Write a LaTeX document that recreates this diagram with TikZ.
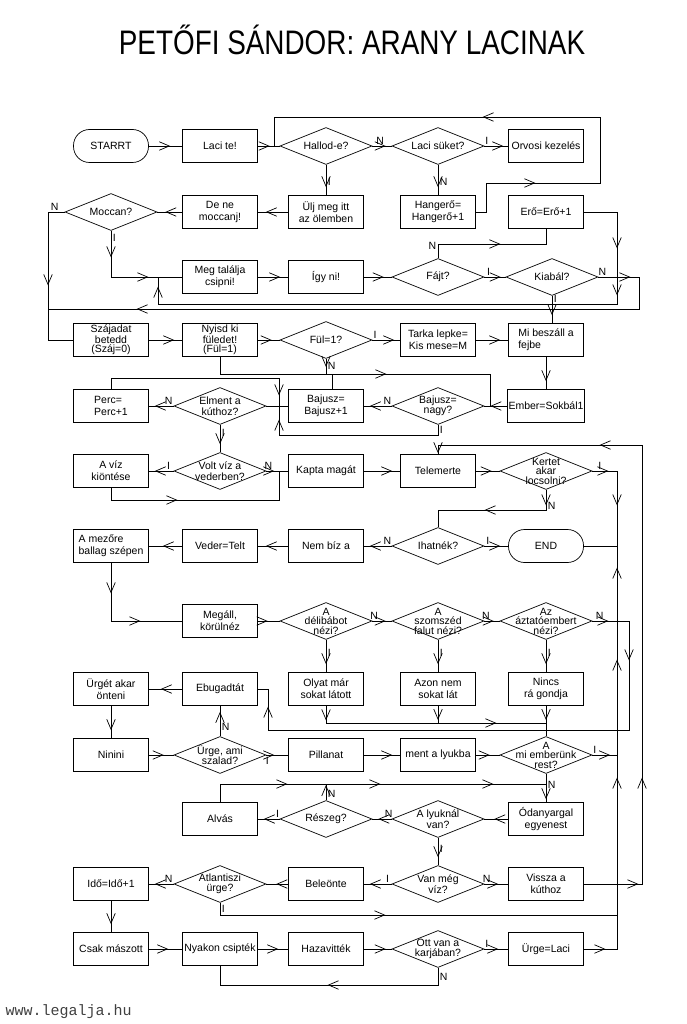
\documentclass[tikz,border=0pt]{standalone}
\usepackage{fontspec}
\setmainfont{Liberation Sans}
\newfontfamily\webfont{Liberation Mono}
\usepackage{graphicx}
\usetikzlibrary{positioning}
\usetikzlibrary{arrows.meta, shapes.geometric, decorations.markings}

\begin{document}
\begin{tikzpicture}[x=1pt, y=-1pt, line width=0.7pt]

 \tikzset{>={Straight Barb[length=10pt, width=8.5pt]},
 	box/.style={draw, minimum width=75pt, minimum height=33pt,
 		inner sep=1pt, align=center, font=\fontsize{10.5}{12}\selectfont},
 	term/.style={box, rounded corners=16pt},
 	dec/.style={draw, diamond, minimum width=92pt, minimum height=37pt, inner sep=0pt},
 	dtxt/.style={align=center, inner sep=0pt, font=\fontsize{10.5}{10.5}\selectfont},
 	tight/.style={font=\fontsize{10.5}{9.5}\selectfont},
 	lab/.style={inner sep=1.5pt, font=\fontsize{10.5}{12}\selectfont},
 	ar/.style={postaction={decorate, decoration={markings,
 				mark=at position #1 with {\arrow{>}}}}},
 	ar/.default=-8pt
 }
 \useasboundingbox (0,0) rectangle (686,1024);

 \node (title) at (352,40) {\scalebox{0.82}[1]{\fontsize{34}{34}\selectfont PETŐFI SÁNDOR: ARANY LACINAK}};
 \node[anchor=west, font=\webfont\fontsize{15}{15}\selectfont, text=black!75] (web) at (2,1012) {www.legalja.hu};

 % row 1
 \node[term] (starrt) at (111,146) {STARRT};
 \node[box] (lacite) at (220,146) {Laci te!};
 \node[dec, label={[dtxt]center:{Hallod-e?}}] (hallod) at (326,146) {};
 \node[dec, label={[dtxt]center:{Laci süket?}}] (suket) at (438,146) {};
 \node[box] (orvosi) at (546,146) {Orvosi kezelés};
 % row 2
 \node[dec, label={[dtxt]center:{Moccan?}}] (moccan) at (111,212) {};
 \node[box] (dene) at (220,212) {De ne\\moccanj!};
 \node[box] (ulj) at (326,212) {Ülj meg itt\\az ölemben};
 \node[box] (hanger) at (438,212) {Hangerő=\\Hangerő+1};
 \node[box] (ero) at (546,212) {Erő=Erő+1};
 % row 3
 \node[box] (megtalal) at (220,277) {Meg találja\\csipni!};
 \node[box] (igyni) at (326,277) {Így ni!};
 \node[dec, label={[dtxt]center:{Fájt?}}] (fajt) at (438,277) {};
 \node[dec, label={[dtxt]center:{Kiabál?}}] (kiabal) at (552,277) {};
 % row 4
 \node[box, tight] (szaj) at (111,340) {Szájadat\\betedd\\(Száj=0)};
 \node[box, tight] (nyisd) at (220,340) {Nyisd ki\\füledet!\\(Fül=1)};
 \node[dec, label={[dtxt]center:{Fül=1?}}] (ful) at (326,340) {};
 \node[box] (tarka) at (438,340) {Tarka lepke=\\Kis mese=M};
 \node[box, align=left] (mibesz) at (546,340) {Mi beszáll a\\fejbe};
 % row 5
 \node[box, align=left] (perc) at (111,406) {Perc=\\Perc+1};
 \node[dec, label={[dtxt]center:{Elment a\\kúthoz?}}] (elment) at (220,406) {};
 \node[box] (bajplus) at (326,406) {Bajusz=\\Bajusz+1};
 \node[dec, label={[dtxt]center:{Bajusz=\\nagy?}}] (bajnagy) at (438,406) {};
 \node[box] (ember) at (546,406) {Ember=Sokbál1};
 % row 6
 \node[box] (viz) at (111,471) {A víz\\kiöntése};
 \node[dec, label={[dtxt]center:{Volt víz a\\vederben?}}] (volt) at (220,471) {};
 \node[box] (kapta) at (326,471) {Kapta magát};
 \node[box] (telem) at (438,471) {Telemerte};
 \node[dec, label={[dtxt, tight]center:{Kertet\\akar\\locsolni?}}] (kertet) at (546,471) {};
 % row 7
 \node[box, align=left] (mezore) at (111,546) {A mezőre\\ballag szépen};
 \node[box] (veder) at (220,546) {Veder=Telt};
 \node[box] (nembiz) at (326,546) {Nem bíz a};
 \node[dec, label={[dtxt]center:{Ihatnék?}}] (ihat) at (438,546) {};
 \node[term] (endn) at (546,546) {END};
 % row 8
 \node[box] (megall) at (220,621) {Megáll,\\körülnéz};
 \node[dec, label={[dtxt, tight]center:{A\\délibábot\\nézi?}}] (delib) at (326,621) {};
 \node[dec, label={[dtxt, tight]center:{A\\szomszéd\\falut nézi?}}] (szomsz) at (438,621) {};
 \node[dec, label={[dtxt, tight]center:{Az\\áztatóembert\\nézi?}}] (aztat) at (546,621) {};
 % row 9
 \node[box] (urget) at (111,689) {Ürgét akar\\önteni};
 \node[box] (ebug) at (220,689) {Ebugadtát};
 \node[box] (olyat) at (326,689) {Olyat már\\sokat látott};
 \node[box] (azon) at (438,689) {Azon nem\\sokat lát};
 \node[box] (nincs) at (546,689) {Nincs\\rá gondja};
 % row 10
 \node[box] (ninini) at (111,755) {Ninini};
 \node[dec, label={[dtxt]center:{Ürge, ami\\szalad?}}] (urgeami) at (220,755) {};
 \node[box] (pill) at (326,755) {Pillanat};
 \node[box] (ment) at (438,755) {ment a lyukba};
 \node[dec, label={[dtxt, tight]center:{A\\mi emberünk\\rest?}}] (rest) at (546,755) {};
 % row 11
 \node[box] (alvas) at (220,819) {Alvás};
 \node[dec, label={[dtxt]center:{Részeg?}}] (reszeg) at (326,819) {};
 \node[dec, label={[dtxt]center:{A lyuknál\\van?}}] (lyuk) at (438,819) {};
 \node[box] (odany) at (546,819) {Ódanyargal\\egyenest};
 % row 12
 \node[box] (ido) at (111,884) {Idő=Idő+1};
 \node[dec, label={[dtxt]center:{Atlantiszi\\ürge?}}] (atlan) at (220,884) {};
 \node[box] (bele) at (326,884) {Beleönte};
 \node[dec, label={[dtxt]center:{Van még\\víz?}}] (vanmeg) at (438,884) {};
 \node[box] (vissza) at (546,884) {Vissza a\\kúthoz};
 % row 13
 \node[box] (csak) at (111,949) {Csak mászott};
 \node[box] (nyakon) at (220,949) {Nyakon csipték};
 \node[box] (haza) at (326,949) {Hazavitték};
 \node[dec, label={[dtxt]center:{Ott van a\\karjában?}}] (ott) at (438,949) {};
 \node[box] (urgelaci) at (546,949) {Ürge=Laci};

 % junctions
 \coordinate (jhal) at (274,146);
 \coordinate (jmoc) at (48,309);
 \coordinate (jmeg) at (158,277);
 \coordinate (jful) at (326,374);
 \coordinate (jbaj) at (490,406);
 \coordinate (jelm) at (279,406);
 \coordinate (jvolt) at (279,471);
 \coordinate (jend) at (617,546);
 \coordinate (jrest) at (546,723);
 \coordinate (jodany) at (546,784);
 \coordinate (jr1) at (617,755);
 \coordinate (jr2) at (617,915);

 % connectors
 \draw[ar=-12pt] (starrt) -- (lacite);
 \draw[ar=-10pt] (lacite) -- (hallod);
 \draw[ar=-6pt] (hallod.east) -- node[lab, above, pos=0.4] {N} (suket.west);
 \draw[ar=-5pt] (suket.east) -- node[lab, above, pos=0.1] {I} (orvosi.west);
 \draw[ar] (suket.south) -- node[lab, right, pos=0.55] {N} (hanger.north);
 \draw[ar] (hallod.south) -- node[lab, right, pos=0.55] {I} (ulj.north);
 \draw[ar=88.5pt, ar=336.5pt] (hanger.east) -- (486,212) -- (486,183) -- (600,183)
 	-- (600,117) -- (274,117) -- (jhal);
 \draw[ar] (ulj) -- (dene);
 \draw[ar] (dene) -- (moccan.east);
 \draw[ar=90pt] (moccan.west) -- node[lab, above, pos=0.6] {N} (48,212) -- (48,340) -- (szaj.west);
 \draw[ar=26.5pt, ar=83.5pt] (moccan.south) -- node[lab, right, pos=0.15] {I} (111,277) -- (megtalal.west);
 \draw[ar] (megtalal) -- (igyni);
 \draw[ar] (igyni) -- (fajt.west);
 \draw[ar=-5pt] (fajt.east) -- node[lab, above, pos=0.2] {I} (kiabal.west);
 \draw[ar=76.5pt] (fajt.north) -- (438,244) node[lab, left, pos=0.9] {N} -- (546,244) -- (ero.south);
 \draw[ar=69.5pt, ar=116.5pt, ar=601.5pt] (ero.east) -- (617,212) -- (617,304) -- (158,304) -- (jmeg);
 \draw[ar=32pt, ar=575pt] (kiabal.east) -- node[lab, above, pos=0.1] {N} (639,277) -- (639,309) -- (jmoc);
 \draw[ar] (kiabal.south) -- node[lab, right, pos=0.1] {I} (kiabal.south |- mibesz.north);
 \draw[ar] (szaj) -- (nyisd);
 \draw[ar] (nyisd) -- (ful.west);
 \draw[ar=-6pt] (ful.east) -- node[lab, above, pos=0.1] {I} (tarka.west);
 \draw[ar] (tarka) -- (mibesz);
 \draw[ar] (mibesz) -- (ember);
 \draw[ar=-6pt] (ember) -- (bajnagy.east);
 \draw[ar=183.5pt] (nyisd.south) -- (220,374) -- (490,374) -- (jbaj);
 \draw[ar=-7pt] (ful.south) -- node[lab, right, pos=0.45] {N} (jful);
 \draw (bajplus.70) -- (bajplus.70 |- jful);
 \draw[ar=-6pt] (bajnagy.west) -- node[lab, above, pos=0.15] {N} (bajplus.east);
 \draw (bajplus.west) -- (elment.east);
 \draw[ar=196.5pt] (perc.north) -- (111,378) -- (279,378) -- (jelm);
 \draw[ar=184.5pt] (bajnagy.south) -- node[lab, right, pos=0.5] {I} (438,435) -- (279,435) -- (jelm);
 \draw[ar=-6pt] (elment.west) -- node[lab, above, pos=0.2] {N} (perc.east);
 \draw[ar] (elment.south) -- node[lab, right, pos=0.3] {I} (volt.north);
 \draw[ar=-6pt] (volt.west) -- node[lab, above, pos=0.2] {I} (viz.east);
 \draw[ar=78.5pt] (viz.south) -- (111,500) -- (279,500) -- (jvolt);
 \draw[ar=-14pt] (volt.east) -- node[lab, above, pos=0.1] {N} (kapta.west);
 \draw[ar] (kapta) -- (telem);
 \draw[ar] (telem) -- (kertet.west);
 \draw[ar=16pt, ar=59pt] (kertet.east) -- node[lab, above, pos=0.3] {I} (617,471) -- (jend) -- (endn.east);
 \draw[ar=15.5pt, ar=81.5pt] (kertet.south) -- node[lab, right, pos=0.8] {N} (546,510) -- (438,510) -- (ihat.north);
 \draw[ar=-8pt] (ihat.east) -- node[lab, above, pos=0.15] {I} (endn.west);
 \draw[ar=-6pt] (ihat.west) -- node[lab, above, pos=0.15] {N} (nembiz.east);
 \draw[ar] (nembiz) -- (veder);
 \draw[ar=-14pt] (veder) -- (mezore);
 \draw[ar=30.5pt, ar=87.5pt] (mezore.south) -- (111,621) -- (megall.west);
 \draw[ar=-12pt] (megall) -- (delib.west);
 \draw[ar=-6pt] (delib.east) -- node[lab, above, pos=0.1] {N} (szomsz.west);
 \draw[ar=-6pt] (szomsz.east) -- node[lab, above, pos=0.1] {N} (aztat.west);
 \draw[ar=16pt, ar=76pt, ar=530pt] (aztat.east) -- node[lab, above, pos=0.2] {N} (629,621) -- (629,730)
 	-- (268,730) -- (268,689) -- (ebug.east);
 \draw[ar] (delib.south) -- node[lab, right, pos=0.4] {I} (olyat.north);
 \draw[ar] (szomsz.south) -- node[lab, right, pos=0.4] {I} (azon.north);
 \draw[ar] (aztat.south) -- node[lab, right, pos=0.4] {I} (nincs.north);
 \draw[ar=14.5pt, ar=187.5pt] (olyat.south) -- (326,723) -- (jrest) -- (rest.north);
 \draw[ar=-3pt] (azon.south) -- (438,723);
 \draw[ar=-3pt] (nincs.south) -- (jrest);
 \draw[ar=-12pt] (ebug) -- (urget);
 \draw[ar] (urget) -- (ninini);
 \draw[ar=-10pt] (ninini) -- (urgeami.west);
 \draw[ar=-6pt] (urgeami.north) -- node[lab, right, pos=0.3] {N} (ebug.south);
 \draw[ar=-14pt] (urgeami.east) -- node[lab, below, pos=0.05] {I} (pill.west);
 \draw[ar] (pill) -- (ment);
 \draw[ar=-10pt] (ment) -- (rest.west);
 \draw[ar=-7pt] (rest.east) -- node[lab, above, pos=0.1] {I} (jr1);
 \draw[ar=-3pt] (rest.south) -- node[lab, right, pos=0.4] {N} (odany.north);
 \draw[ar=85.5pt, ar=178.5pt, ar=291.5pt] (alvas.north) -- (220,784) -- (jodany);
 \draw[ar=-1pt] (reszeg.north) -- node[lab, right, pos=0.4] {N} (326,784);
 \draw[ar=-10pt] (odany) -- (lyuk.east);
 \draw[ar=-6pt] (lyuk.west) -- node[lab, above, pos=0.15] {N} (reszeg.east);
 \draw[ar=-6pt] (reszeg.west) -- node[lab, above, pos=0.1] {I} (alvas.east);
 \draw[ar] (lyuk.south) -- node[lab, right, pos=0.4] {I} (vanmeg.north);
 \draw[ar=-10pt] (vanmeg.east) -- node[lab, above, pos=0.1] {N} (vissza.west);
 \draw[ar=-6pt] (vanmeg.west) -- node[lab, above, pos=0.15] {I} (bele.east);
 \draw[ar=54.5pt, ar=164.5pt, ar=539.5pt, ar=-1pt] (vissza.east) -- (642,884) -- (642,445)
 	-- (438,445) -- (telem.north);
 \draw[ar=-10pt] (bele) -- (atlan.east);
 \draw[ar=-6pt] (atlan.west) -- node[lab, above, pos=0.2] {N} (ido.east);
 \draw[ar=177.5pt] (atlan.south) -- node[lab, right, pos=0.5] {I} (220,915) -- (jr2);
 \draw[ar] (ido) -- (csak);
 \draw[ar=-14pt] (csak) -- (nyakon);
 \draw[ar=-10pt] (nyakon) -- (haza);
 \draw[ar=-6pt] (haza) -- (ott.west);
 \draw[ar=-10pt] (ott.east) -- node[lab, above, pos=0.1] {I} (urgelaci.west);
 \draw[ar=127.5pt] (ott.south) -- node[lab, right, pos=0.5] {N} (438,985) -- (220,985) -- (nyakon.south);
 \draw[ar=21.5pt, ar=204.5pt, ar=322.5pt, ar=414.5pt] (urgelaci.east) -- (617,949) -- (jend);
\end{tikzpicture}
\end{document}
